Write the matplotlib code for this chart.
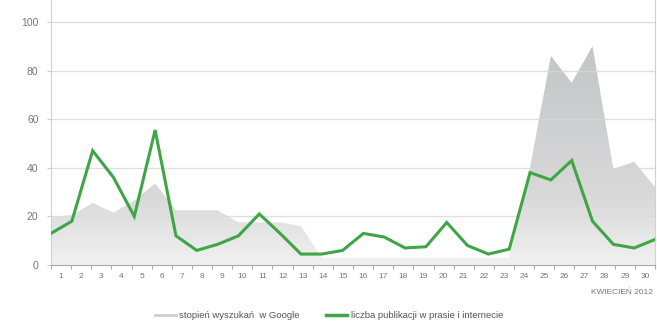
import numpy as np
import matplotlib
matplotlib.use("Agg")
import matplotlib.pyplot as plt
from matplotlib.colors import LinearSegmentedColormap
from matplotlib.lines import Line2D

plt.rcParams["font.family"] = ["Liberation Sans", "DejaVu Sans"]

# dni kwietnia 2012
days = list(range(1, 31))

# stopien wyszukan w Google (szare pole)
google = [19.5, 20.5, 25.5, 21.5, 26.5, 33.5, 22.5, 22.5, 22.5, 17.5,
          17.5, 17.5, 16, 3, 3, 3, 3, 3, 3, 3,
          3, 3, 3, 40, 86, 75, 90, 39.5, 42.5, 32]

# liczba publikacji w prasie i internecie (zielona linia)
press = [13, 18, 47, 36, 20, 55.5, 12, 6, 8.5, 12,
         21, 13, 4.5, 4.5, 6, 13, 11.5, 7, 7.5, 17.5,
         8, 4.5, 6.5, 38, 35, 43, 18, 8.5, 7, 10.5]

yticks = [0, 20, 40, 60, 80, 100]

green = "#3ea645"
tick_col = "#777777"

fig = plt.figure(figsize=(6.57, 3.23), dpi=100)
ax = fig.add_axes([51 / 657, 1 - 265 / 323, 604 / 657, 265 / 323])

n = len(days)
# the lines run edge to edge, the labels sit in the category centres
x = np.arange(n) * n / (n - 1)

ymax = 109
ax.set_xlim(0, n)
ax.set_ylim(0, ymax)

# gradient filled area
poly = ax.fill_between(x, 0, google, color="none", lw=0)
cmap = LinearSegmentedColormap.from_list(
    "g", [(0, "#f1f1f1"), (0.3, "#d9d9da"), (1, "#c3c4c6")])
grad = np.linspace(0, 1, 256).reshape(-1, 1)
img = ax.imshow(grad, cmap=cmap, origin="lower", aspect="auto",
                extent=[0, n, 0, 92], zorder=1)
path = poly.get_paths()[0]
img.set_clip_path(path, transform=ax.transData)

for y in yticks[1:]:
    ax.axhline(y, color="#d8d8d8", lw=1.0, zorder=2, alpha=0.8)

ax.plot(x, press, color=green, lw=2.2, zorder=3, solid_joinstyle="miter")

ax.set_yticks(yticks)
ax.set_yticklabels([str(v) for v in yticks], fontsize=7.5, color=tick_col)
ax.set_xticks(np.arange(n + 1))
ax.set_xticklabels([])
ax.set_xticks(np.arange(n) + 0.5, minor=True)
ax.set_xticklabels([str(d) for d in days], minor=True, fontsize=6, color=tick_col)
ax.tick_params(axis="x", which="minor", length=0, pad=6)
ax.tick_params(axis="x", which="major", length=3, color="#aaaaaa", direction="out")
ax.tick_params(axis="y", length=3, color="#cccccc", pad=6)

ax.spines["top"].set_visible(False)
ax.spines["left"].set_color("#d0d0d0")
ax.spines["right"].set_color("#d0d0d0")
ax.spines["bottom"].set_color("#aaaaaa")

fig.text(653 / 657, 1 - 293 / 323, "KWIECIEŃ 2012", fontsize=6, color=tick_col,
         ha="right", va="center")

handles = [Line2D([], [], color="#cfcfcf", lw=2.0),
           Line2D([], [], color=green, lw=2.5)]
labels = ["stopień wyszukań  w Google", "liczba publikacji w prasie i internecie"]
fig.legend(handles, labels, loc="center", bbox_to_anchor=(329 / 657, 1 - 316 / 323),
           ncol=2, frameon=False, fontsize=6.8, handlelength=2.2, columnspacing=2.8,
           labelcolor="#555555", handletextpad=0.4)

fig.savefig("out.png", dpi=100)
